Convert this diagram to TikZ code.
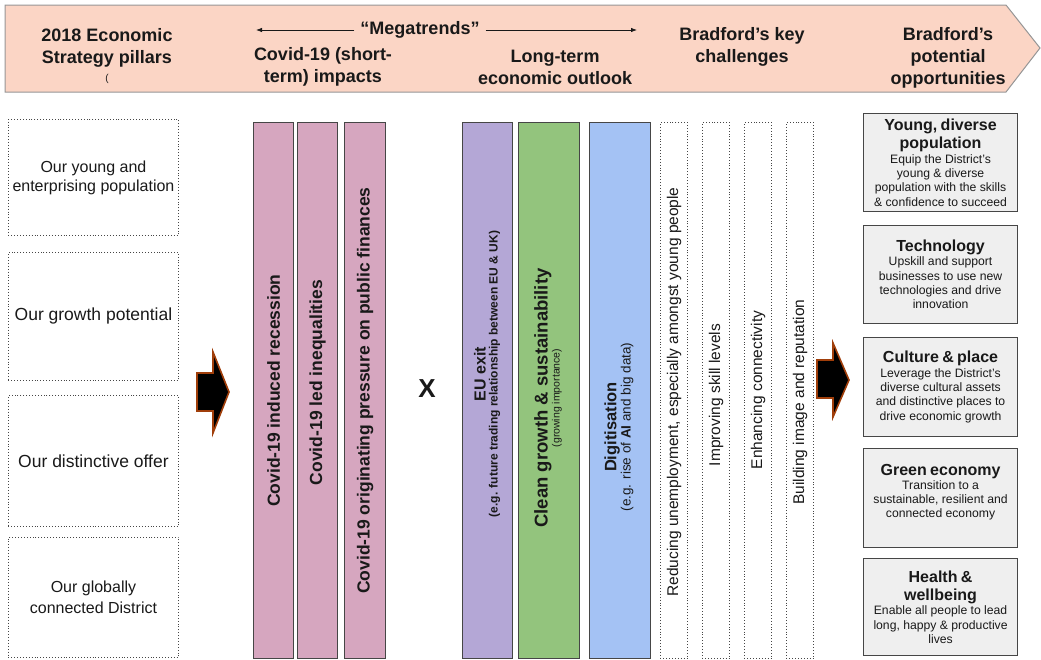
\documentclass[tikz,border=0pt]{standalone}
\usepackage{fontspec}
\setmainfont{Liberation Sans}
\usetikzlibrary{arrows.meta}

\definecolor{banner}{RGB}{251,213,197}
\definecolor{bannerline}{RGB}{150,150,150}
\definecolor{covid}{RGB}{214,166,191}
\definecolor{euexit}{RGB}{180,167,214}
\definecolor{clean}{RGB}{147,196,125}
\definecolor{digit}{RGB}{164,194,244}
\definecolor{oppfill}{RGB}{239,239,239}
\definecolor{ink}{RGB}{25,25,25}
\definecolor{edge}{RGB}{70,70,70}
\definecolor{rust}{RGB}{160,62,10}

\newcommand\opptitle[1]{{\fontsize{16}{18.3}\selectfont\bfseries #1\par}}
\newcommand\oppbody[1]{{\fontsize{12.2}{14.3}\selectfont #1\par}}

\begin{document}
\begin{tikzpicture}[x=1pt,y=-1pt,
  head/.style={font=\fontsize{18}{22}\selectfont\bfseries, text=ink, align=center, inner sep=0pt},
  pillar/.style={draw=edge, dotted, line width=0.9pt, anchor=north west, minimum width=170, text=ink, align=center, inner sep=0pt},
  bar/.style={draw=edge, line width=1.1pt, anchor=north west, minimum height=536, inner sep=0pt},
  challenge/.style={draw=edge, dotted, line width=0.9pt, anchor=north west, minimum width=27, minimum height=536, inner sep=0pt},
  barlabel/.style={rotate=90, text=ink, align=center, inner sep=0pt},
  covidlabel/.style={barlabel, font=\fontsize{17.5}{20}\selectfont\bfseries},
  challlabel/.style={barlabel, font=\fontsize{15.5}{18}\selectfont},
  opp/.style={draw=edge, line width=1.1pt, fill=oppfill, anchor=north west, minimum width=154, text width=150, align=center, text=ink, inner sep=2pt},
  megarrow/.style={line width=0.8pt, draw=ink, -{Latex[length=6pt,width=4.5pt]}},
  bigarrow/.style={fill=black, draw=rust, line width=1.6pt, line join=miter}]

\useasboundingbox (0,0) rectangle (1041,659);

% header banner
\path[fill=banner, draw=bannerline, line width=1pt]
  (5,5) -- (1006,5) -- (1040,48) -- (1006,92) -- (5,92) -- cycle;

\node[head] (hpillars) at (107,56) {2018 Economic\\Strategy pillars\\[-4pt]{\fontsize{10}{10}\selectfont\mdseries (}};
\node[head] (mega) at (420,30) {“Megatrends”};
\coordinate (megaL) at (256,30);
\coordinate (megaR) at (637,30);
\draw[megarrow] ([xshift=-6pt]mega.west) -- (megaL);
\draw[megarrow] ([xshift=6pt]mega.east) -- (megaR);
\node[head] (hcovid) at (323,67) {Covid-19 (short-\\term) impacts};
\node[head] (hlong) at (555,67) {Long-term\\economic outlook};
\node[head] (hchall) at (742,47) {Bradford’s key\\challenges};
\node[head] (hopp) at (948,58) {Bradford’s\\potential\\opportunities};

% strategy pillars
\node[pillar, minimum height=116, font=\fontsize{16}{19}\selectfont] (p1) at (8,119) {Our young and\\enterprising population};
\node[pillar, minimum height=128, font=\fontsize{17.5}{20}\selectfont] (p2) at (8,252) {Our growth potential};
\node[pillar, minimum height=131, font=\fontsize{17.5}{20}\selectfont] (p3) at (8,395) {Our distinctive offer};
\node[pillar, minimum height=120, font=\fontsize{16}{21}\selectfont] (p4) at (8,537) {Our globally\\connected District};

% flow arrows
\path[bigarrow] (197,373) -- (213,373) -- (213,352) -- (229,392) -- (213,433) -- (213,411) -- (197,411) -- cycle;
\path[bigarrow] (817,360) -- (833,360) -- (833,343) -- (849,380) -- (833,417) -- (833,398) -- (817,398) -- cycle;

% covid-19 impacts
\node[bar, fill=covid, minimum width=40] (c1) at (253,122) {};
\node[bar, fill=covid, minimum width=40] (c2) at (297,122) {};
\node[bar, fill=covid, minimum width=41] (c3) at (344,122) {};
\node[covidlabel] (c1t) at (c1.center) {Covid-19 induced recession};
\node[covidlabel] (c2t) at ([yshift=8pt]c2.center) {Covid-19 led inequalities};
\node[covidlabel] (c3t) at (c3.center) {Covid-19 originating pressure on public finances};

\node[font=\fontsize{26}{26}\selectfont\bfseries, text=ink] (times) at (427,389) {X};

% long-term outlook
\node[bar, fill=euexit, minimum width=50] (lt1) at (462,122) {};
\node[bar, fill=clean, minimum width=61] (lt2) at (518,122) {};
\node[bar, fill=digit, minimum width=61] (lt3) at (589,122) {};
\node[barlabel] (lt1t) at (487,374) {{\fontsize{16}{19}\selectfont\bfseries EU exit}\\{\fontsize{12}{14}\selectfont\bfseries (e.g. future trading relationship between EU \& UK)}};
\node[barlabel] (lt2t) at (548,398) {{\fontsize{18.5}{21}\selectfont\bfseries Clean growth \& sustainability}\\{\fontsize{10.5}{12}\selectfont (growing importance)}};
\node[barlabel] (lt3t) at (619,427) {{\fontsize{16.5}{19}\selectfont\bfseries Digitisation}\\{\fontsize{13.5}{15}\selectfont (e.g. rise of \textbf{AI} and big data)}};

% key challenges
\node[challenge] (k1) at (660,122) {};
\node[challenge] (k2) at (702,122) {};
\node[challenge] (k3) at (744,122) {};
\node[challenge] (k4) at (786,122) {};
\node[challlabel] (k1t) at (674,392) {Reducing unemployment, especially amongst young people};
\node[challlabel] (k2t) at (716,395) {Improving skill levels};
\node[challlabel] (k3t) at (758,390) {Enhancing connectivity};
\node[challlabel] (k4t) at (800,402) {Building image and reputation};

% potential opportunities
\node[opp, minimum height=98] (o1) at (863,113) {\opptitle{Young, diverse\\population}\oppbody{Equip the District’s\\young \& diverse\\population with the skills\\\& confidence to succeed}};
\node[opp, minimum height=98] (o2) at (863,225) {\opptitle{Technology}\oppbody{Upskill and support\\businesses to use new\\technologies and drive\\innovation}};
\node[opp, minimum height=99] (o3) at (863,337) {\opptitle{Culture \& place}\oppbody{Leverage the District’s\\diverse cultural assets\\and distinctive places to\\drive economic growth}};
\node[opp, minimum height=99] (o4) at (863,448) {\opptitle{Green economy}\oppbody{Transition to a\\sustainable, resilient and\\connected economy\\\mbox{}}};
\node[opp, minimum height=97] (o5) at (863,558) {\opptitle{Health \&\\wellbeing}\oppbody{Enable all people to lead\\long, happy \& productive\\lives}};

\end{tikzpicture}
\end{document}
